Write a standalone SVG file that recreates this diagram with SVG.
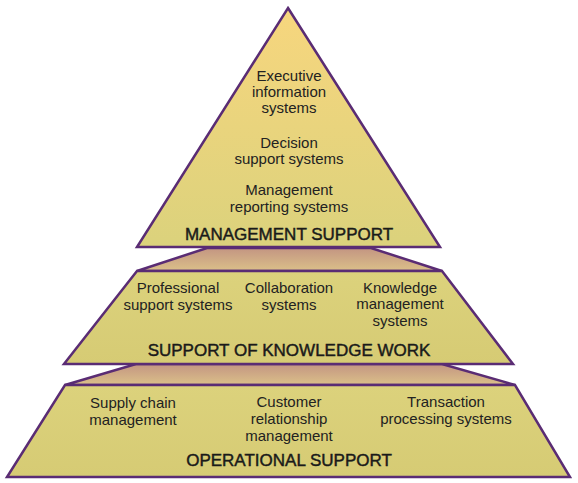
<svg xmlns="http://www.w3.org/2000/svg" width="578" height="483" viewBox="0 0 578 483">
<defs>
<linearGradient id="gTri" x1="0" y1="0" x2="0" y2="1">
<stop offset="0" stop-color="#f7d67e"/>
<stop offset="1" stop-color="#dbd27c"/>
</linearGradient>
<linearGradient id="gTrap" x1="0" y1="0" x2="0" y2="1">
<stop offset="0" stop-color="#dcd27c"/>
<stop offset="1" stop-color="#d6cb74"/>
</linearGradient>
<linearGradient id="gBand" x1="0" y1="0" x2="0" y2="1">
<stop offset="0" stop-color="#c39582"/>
<stop offset="1" stop-color="#dbc089"/>
</linearGradient>
</defs>
<style>
.shape{stroke:#5a2c74;stroke-width:2.5;stroke-linejoin:miter}
.tri{fill:url(#gTri)}
.trap{fill:url(#gTrap)}
.band{fill:url(#gBand)}
.t{font-family:"Liberation Sans",Arial,sans-serif;font-size:15px;fill:#222;text-anchor:middle}
.h{font-family:"Liberation Sans",Arial,sans-serif;font-size:17px;fill:#1a1a1a;stroke:#1a1a1a;stroke-width:0.45;text-anchor:middle}
</style>
<rect width="578" height="483" fill="#ffffff"/>
<g id="connectors">
<polygon class="shape band" points="207,248 371,248 442,271 137,271"/>
<polygon class="shape band" points="136,364 442,364 515,385 65,385"/>
</g>
<g id="operational-support">
<polygon class="shape trap" points="65,385 515,385 570,477 7,477"/>
<text class="t" x="133" y="408">Supply chain</text>
<text class="t" x="133" y="425">management</text>
<text class="t" x="289" y="407">Customer</text>
<text class="t" x="289" y="424">relationship</text>
<text class="t" x="289" y="441">management</text>
<text class="t" x="446" y="407">Transaction</text>
<text class="t" x="446" y="424">processing systems</text>
<text class="h" x="289" y="466">OPERATIONAL SUPPORT</text>
</g>
<g id="knowledge-work">
<polygon class="shape trap" points="137,271 442,271 513,364 64,364"/>
<text class="t" x="178" y="293">Professional</text>
<text class="t" x="178" y="310">support systems</text>
<text class="t" x="289" y="293">Collaboration</text>
<text class="t" x="289" y="310">systems</text>
<text class="t" x="400" y="293">Knowledge</text>
<text class="t" x="400" y="309">management</text>
<text class="t" x="400" y="326">systems</text>
<text class="h" x="289" y="356">SUPPORT OF KNOWLEDGE WORK</text>
</g>
<g id="management-support">
<polygon class="shape tri" points="288,8 440,247 137,247"/>
<text class="t" x="289" y="81">Executive</text>
<text class="t" x="289" y="97">information</text>
<text class="t" x="289" y="113">systems</text>
<text class="t" x="289" y="148">Decision</text>
<text class="t" x="289" y="164">support systems</text>
<text class="t" x="289" y="195">Management</text>
<text class="t" x="289" y="212">reporting systems</text>
<text class="h" x="289" y="240">MANAGEMENT SUPPORT</text>
</g>
</svg>
